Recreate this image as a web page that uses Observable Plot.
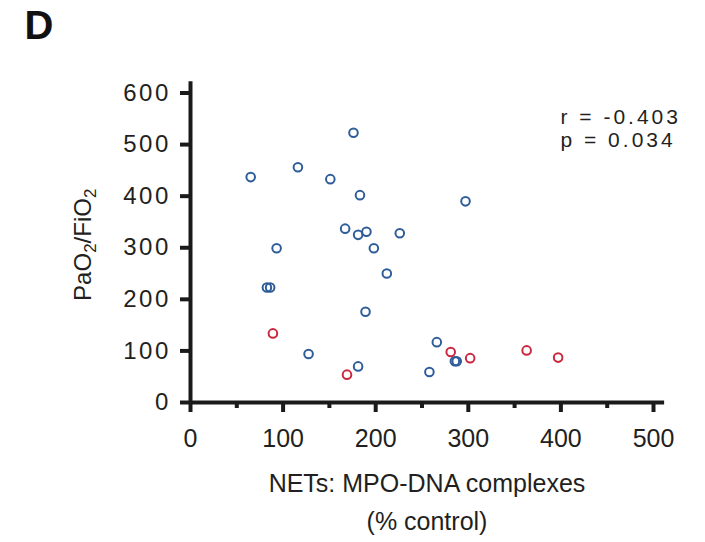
<!DOCTYPE html>
<html><head><meta charset="utf-8">
<script src="https://cdn.jsdelivr.net/npm/d3@7"></script>
<script src="https://cdn.jsdelivr.net/npm/@observablehq/plot@0.6"></script>
<style>
body{margin:0;background:#fff;}
</style></head><body><div id="chart"></div>
<script>
// NETs (MPO-DNA complexes, % control) vs PaO2/FiO2
const netsBlue = [176, 116, 65, 151, 183, 167, 190, 181, 93, 198, 82.5, 86, 189, 127.5, 181, 297, 226, 212, 266, 285.5, 287.5, 258];
const pfBlue   = [523, 456, 437, 433, 402, 337, 331, 325, 299, 299, 223, 223, 176, 94, 70, 390, 328, 250, 117, 80, 80, 59];
const netsRed  = [89, 169, 281, 302, 363, 397];
const pfRed    = [134, 54, 98, 86, 101, 87];
const xTicks = [0, 100, 200, 300, 400, 500];
const xMinorTicks = [50, 150, 250, 350, 450];
const yTicks = [0, 100, 200, 300, 400, 500, 600];
const stats = ["r = -0.403", "p = 0.034"];
const panelLabel = "D";
const xTitle = ["NETs: MPO-DNA complexes", "(% control)"];
const yTitle = "PaO2/FiO2";

const blue = "#2f5d9a", red = "#c9283f", ink = "#1a1a1a";

const points = [
  ...netsBlue.map((x, i) => ({nets: x, pf: pfBlue[i], c: blue})),
  ...netsRed.map((x, i) => ({nets: x, pf: pfRed[i], c: red}))
];

const font = "'Liberation Sans', Arial, Helvetica, sans-serif";

const plot = Plot.plot({
  width: 705, height: 542,
  marginLeft: 190, marginRight: 52, marginTop: 92.5, marginBottom: 140,
  style: {fontFamily: font, background: "#fff", color: "#231f20"},
  x: {domain: [0, 500]},
  y: {domain: [0, 600]},
  marks: [
    Plot.axisY({ticks: yTicks, tickSize: 10, tickPadding: 9.5, strokeWidth: 4, stroke: ink, fontSize: 24, label: null, tickFormat: d => String(d)}),
    Plot.axisX({ticks: xTicks, tickSize: 10, tickPadding: 17, strokeWidth: 4, stroke: ink, fontSize: 25, label: null, tickFormat: d => String(d)}),
    Plot.axisX({ticks: xMinorTicks, tickSize: 6, strokeWidth: 4, stroke: ink, label: null, tickFormat: () => ""}),
    Plot.ruleX([0], {y1: 0, y2: 622, stroke: ink, strokeWidth: 4}),
    Plot.ruleY([0], {x1: 0, x2: 512, stroke: ink, strokeWidth: 4}),
    Plot.dot(points, {x: "nets", y: "pf", stroke: "c", r: 4.3, strokeWidth: 2, fill: "none"}),
    Plot.text([stats[0]], {text: d => d, frameAnchor: "top-left", dx: 370, dy: 31, textAnchor: "start", lineAnchor: "bottom", fontSize: 21, className: "stat"}),
    Plot.text([stats[1]], {text: d => d, frameAnchor: "top-left", dx: 370, dy: 54, textAnchor: "start", lineAnchor: "bottom", fontSize: 21, className: "stat"}),
    Plot.text([panelLabel], {text: d => d, frameAnchor: "top-left", dx: -166, dy: -54.2, textAnchor: "start", lineAnchor: "bottom", fontSize: 40, fontWeight: "bold", fill: "#111"}),
    Plot.text([xTitle[0]], {text: d => d, frameAnchor: "bottom", dx: 5, dy: 89.7, lineAnchor: "bottom", fontSize: 25}),
    Plot.text([xTitle[1]], {text: d => d, frameAnchor: "bottom", dx: 5, dy: 127, lineAnchor: "bottom", fontSize: 25}),
    Plot.text([yTitle], {text: d => d, frameAnchor: "left", rotate: -90, dx: -100, dy: -3, lineAnchor: "bottom", textAnchor: "middle", fontSize: 24, className: "ylab"})
  ]
});

const svg = d3.select(plot);
svg.selectAll('g[aria-label="y-axis tick label"] text').attr("letter-spacing", "2.6");
svg.selectAll('.stat text').attr("letter-spacing", "3");
// subscripts in PaO2/FiO2
const t = svg.select(".ylab text");
t.text(null);
t.append("tspan").text("PaO");
t.append("tspan").attr("dy", 5).attr("font-size", 17).text("2");
t.append("tspan").attr("dy", -5).text("/FiO");
t.append("tspan").attr("dy", 5).attr("font-size", 17).text("2");

document.getElementById("chart").appendChild(plot);
</script>
</body></html>
